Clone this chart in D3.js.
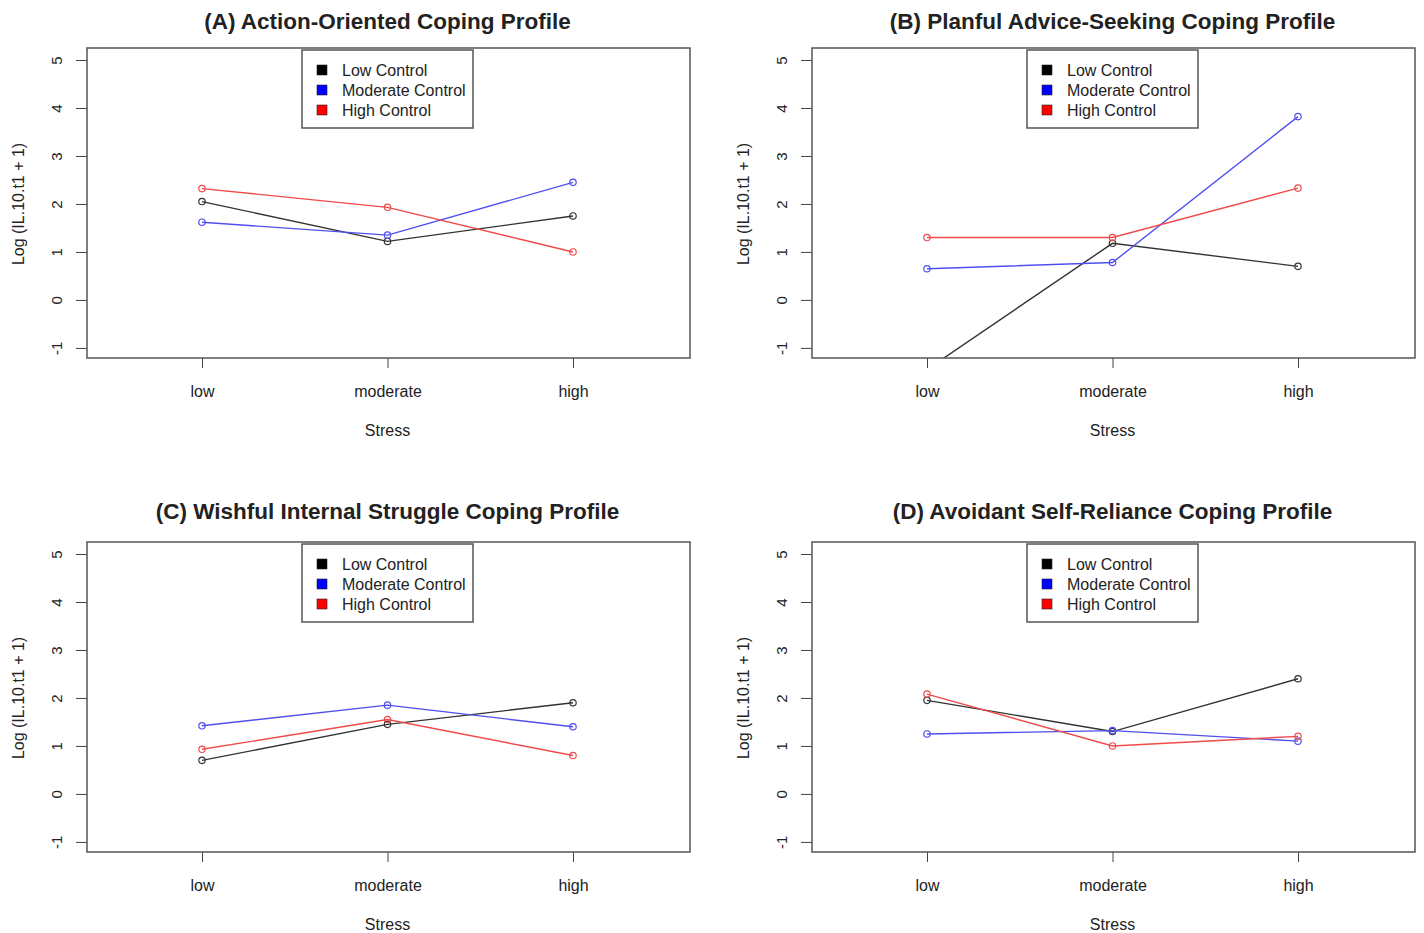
<!DOCTYPE html>
<html>
<head>
<meta charset="utf-8">
<script src="https://cdn.jsdelivr.net/npm/d3@7"></script>
<style>
  body { margin: 0; background: #fff; }
  text { font-family: "Liberation Sans", Arial, sans-serif; fill: #222; }
</style>
</head>
<body>
<svg id="chart" width="1424" height="933"></svg>
<script>
// Data: one row per control group, values at low / moderate / high stress
const stressLevels = ["low", "moderate", "high"];
const controlGroups = ["Low Control", "Moderate Control", "High Control"];
const groupColors = ["#333333", "#4f4ff0", "#f04a4a"];
const yTicks = [-1, 0, 1, 2, 3, 4, 5];

const panelTitles = [
  "(A) Action-Oriented Coping Profile",
  "(B) Planful Advice-Seeking Coping Profile",
  "(C) Wishful Internal Struggle Coping Profile",
  "(D) Avoidant Self-Reliance Coping Profile"
];

const actionOriented   = [[2.05, 1.22, 1.75], [1.62, 1.35, 2.45], [2.32, 1.93, 1.00]];
const planfulAdvice    = [[-1.45, 1.18, 0.70], [0.65, 0.78, 3.82], [1.30, 1.30, 2.33]];
const wishfulStruggle  = [[0.70, 1.45, 1.90], [1.42, 1.85, 1.40], [0.93, 1.55, 0.80]];
const avoidantReliance = [[1.95, 1.30, 2.40], [1.25, 1.32, 1.10], [2.08, 1.00, 1.20]];

const panelData = [actionOriented, planfulAdvice, wishfulStruggle, avoidantReliance];

////////////////////////////////////////////////////////////////////////
// layout

const boxW = 603, boxH = 310;
const panelPos = [[87, 48], [812, 48], [87, 542], [812, 542]];

const svg = d3.select("#chart");

const xScale = d3.scalePoint().domain(stressLevels).range([115, 486]);
const yScale = d3.scaleLinear().domain([-1.21, 5.25]).range([boxH, 0]);

const line = d3.line()
  .x((d, i) => xScale(stressLevels[i]))
  .y(d => yScale(d));

panelData.forEach((series, p) => {
  const g = svg.append("g")
    .attr("transform", "translate(" + panelPos[p][0] + "," + panelPos[p][1] + ")");

  // clip so out-of-range lines get cut at the box like in R
  g.append("clipPath").attr("id", "clip" + p)
    .append("rect").attr("width", boxW).attr("height", boxH);

  // title
  g.append("text")
    .attr("x", boxW / 2 - 1)
    .attr("y", p < 2 ? -19 : -23)
    .attr("text-anchor", "middle")
    .style("font-size", "22.5px")
    .style("font-weight", "bold")
    .text(panelTitles[p]);

  // y axis
  let yAxis = g.append("g").call(d3.axisLeft(yScale).tickValues(yTicks)
    .tickFormat(d => String(d)).tickSize(11).tickSizeOuter(0));
  yAxis.select(".domain").remove();
  yAxis.selectAll(".tick line").attr("stroke", "#444");
  yAxis.selectAll(".tick text")
    .attr("x", null).attr("dy", "0.35em")
    .attr("transform", "translate(-30,0) rotate(-90)")
    .attr("text-anchor", "middle")
    .style("font-size", "15px")
    .attr("fill", "#222");

  // x axis
  let xAxis = g.append("g")
    .attr("transform", "translate(0," + boxH + ")")
    .call(d3.axisBottom(xScale).tickSize(10).tickSizeOuter(0));
  xAxis.select(".domain").remove();
  xAxis.selectAll(".tick line").attr("stroke", "#444");
  xAxis.selectAll(".tick text")
    .attr("y", 33)
    .attr("dy", "0.35em")
    .style("font-size", "16px")
    .attr("fill", "#222");

  // axis titles
  g.append("text")
    .attr("x", boxW / 2 - 1)
    .attr("y", boxH + 78)
    .attr("text-anchor", "middle")
    .style("font-size", "16px")
    .text("Stress");

  g.append("text")
    .attr("transform", "translate(-69," + (yScale(2)) + ") rotate(-90)")
    .attr("dy", "0.35em")
    .attr("text-anchor", "middle")
    .style("font-size", "16px")
    .text("Log (IL.10.t1 + 1)");

  // lines and points
  const plot = g.append("g").attr("clip-path", "url(#clip" + p + ")");
  series.forEach((vals, k) => {
    plot.append("path")
      .datum(vals)
      .attr("d", line)
      .attr("fill", "none")
      .attr("stroke", groupColors[k])
      .attr("stroke-width", 1.4);
    plot.selectAll(".pt" + k)
      .data(vals)
      .enter()
      .append("circle")
      .attr("cx", (d, i) => xScale(stressLevels[i]))
      .attr("cy", d => yScale(d))
      .attr("r", 3.2)
      .attr("fill", "none")
      .attr("stroke", groupColors[k])
      .attr("stroke-width", 1.2);
  });

  // box
  g.append("rect")
    .attr("width", boxW).attr("height", boxH)
    .attr("fill", "none")
    .attr("stroke", "#555")
    .attr("stroke-width", 1.5);

  // legend
  const lg = g.append("g").attr("transform", "translate(215,2)");
  lg.append("rect")
    .attr("width", 171).attr("height", 78)
    .attr("fill", "#fff")
    .attr("stroke", "#555")
    .attr("stroke-width", 1.5);
  const item = lg.selectAll(".item")
    .data(controlGroups)
    .enter()
    .append("g")
    .attr("transform", (d, i) => "translate(0," + (20 + i * 20) + ")");
  item.append("rect")
    .attr("x", 15).attr("y", -5)
    .attr("width", 10).attr("height", 10)
    .attr("fill", (d, i) => ["#000", "#0000ff", "#ff0000"][i])
    .attr("stroke", "#222")
    .attr("stroke-width", 0.6);
  item.append("text")
    .attr("x", 40)
    .attr("dy", "0.35em")
    .style("font-size", "16px")
    .attr("fill", "#333")
    .text(d => d);
});
</script>
</body>
</html>
